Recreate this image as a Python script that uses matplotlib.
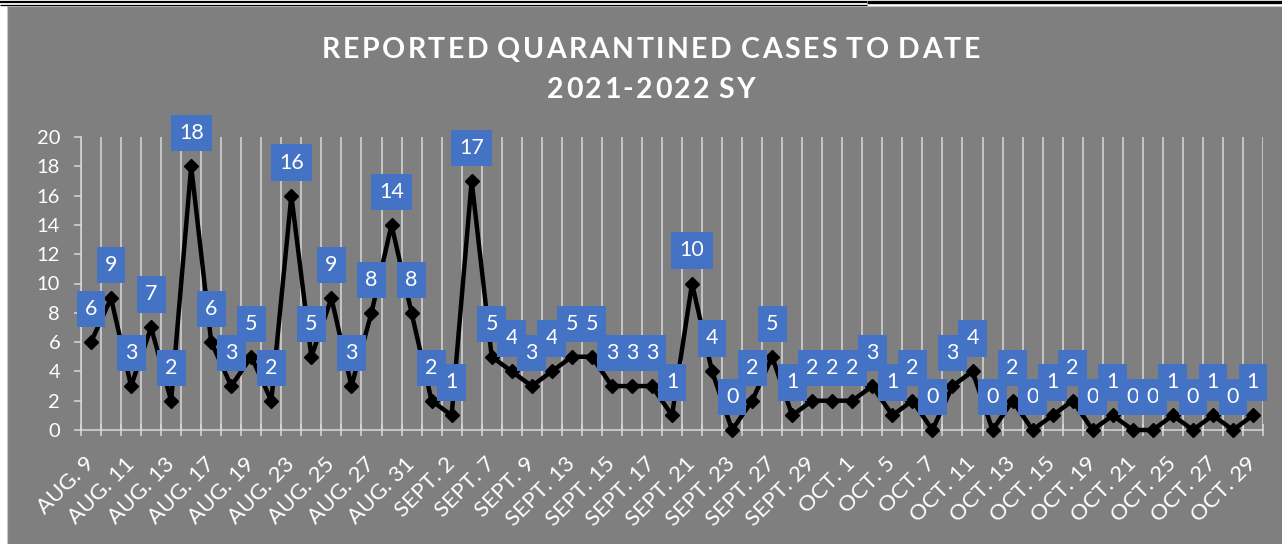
import matplotlib
matplotlib.use("Agg")
import matplotlib.pyplot as plt
from matplotlib.patches import Rectangle
from matplotlib.lines import Line2D
from matplotlib.font_manager import FontProperties
from matplotlib.textpath import TextToPath
import numpy as np

# ---------------- data ----------------
tick_labels = ["AUG. 9", "AUG. 11", "AUG. 13", "AUG. 17", "AUG. 19", "AUG. 23",
               "AUG. 25", "AUG. 27", "AUG. 31", "SEPT. 2", "SEPT. 7", "SEPT. 9",
               "SEPT. 13", "SEPT. 15", "SEPT. 17", "SEPT. 21", "SEPT. 23", "SEPT. 27",
               "SEPT. 29", "OCT. 1", "OCT. 5", "OCT. 7", "OCT. 11", "OCT. 13",
               "OCT. 15", "OCT. 19", "OCT. 21", "OCT. 25", "OCT. 27", "OCT. 29"]
cases = [6, 9, 3, 7, 2, 18, 6, 3, 5, 2,
         16, 5, 9, 3, 8, 14, 8, 2, 1, 17,
         5, 4, 3, 4, 5, 5, 3, 3, 3, 1,
         10, 4, 0, 2, 5, 1, 2, 2, 2, 3,
         1, 2, 0, 3, 4, 0, 2, 0, 1, 2,
         0, 1, 0, 0, 1, 0, 1, 0, 1]
title_lines = ["REPORTED QUARANTINED CASES TO DATE", "2021-2022 SY"]

# ---------------- style ----------------
W, H = 1282, 544
DPI = 100
BG = "#7F7F7F"
GRID = "#D9D9D9"
BLUE = "#4472C4"
FONT = "Lato"

plt.rcParams["font.family"] = [FONT, "DejaVu Sans"]

fig = plt.figure(figsize=(W / DPI, H / DPI), dpi=DPI)
fig.patch.set_facecolor("white")

def fx(px):
    return px / W

def fy(py):
    return 1 - py / H

# gray chart area
fig.add_artist(Rectangle((fx(7), 0), 1 - fx(7), fy(7), transform=fig.transFigure,
                         facecolor=BG, edgecolor="none", zorder=-10))
# border lines
fig.add_artist(Line2D([fx(6.5), fx(6.5)], [0, fy(6.5)], transform=fig.transFigure,
                      color="#C8C8C8", lw=0.8))
fig.add_artist(Line2D([fx(6.5), 1], [fy(6.2), fy(6.2)], transform=fig.transFigure,
                      color="#C8C8C8", lw=0.8))
# top black lines
fig.add_artist(Line2D([0, fx(867)], [fy(2), fy(2)], transform=fig.transFigure,
                      color="black", lw=1.6, solid_capstyle="butt"))
fig.add_artist(Line2D([0, fx(867)], [fy(5), fy(5)], transform=fig.transFigure,
                      color="black", lw=0.9, solid_capstyle="butt"))
fig.add_artist(Line2D([fx(867), 1], [fy(1.6), fy(1.6)], transform=fig.transFigure,
                      color="black", lw=2.4, solid_capstyle="butt"))

# ---------------- axes ----------------
left, right, top, bottom = 81, 1263, 137, 430
ax = fig.add_axes([fx(left), fy(bottom), fx(right - left), (bottom - top) / H])
ax.set_facecolor("none")

x = np.arange(len(cases))
ax.plot(x, cases, color="black", lw=3.2, marker="D", markersize=7.5,
        markerfacecolor="black", markeredgecolor="black", zorder=3, clip_on=False)

ax.set_xlim(-0.5, len(cases) - 0.5)
ax.set_ylim(0, 20)
ax.set_yticks(range(0, 21, 2))

ax.set_xticks(np.arange(0, len(cases), 2))
ax.set_xticklabels(tick_labels, rotation=45, ha="right", va="center",
                   rotation_mode="anchor", color="white", fontsize=16)
ax.set_xticks(np.arange(-0.5, len(cases), 1), minor=True)
ax.tick_params(axis="x", which="major", length=0, pad=22)
ax.tick_params(axis="x", which="minor", direction="inout", length=8.5,
               width=1.1, color=GRID)
ax.tick_params(axis="y", which="major", direction="out", length=5, width=1.1,
               color=GRID, labelcolor="white", labelsize=14.5, pad=10)
ax.grid(True, axis="x", which="minor", color=GRID, lw=1.1, zorder=1)
ax.grid(False, axis="x", which="major")
ax.set_axisbelow(True)

for s in ["top", "right"]:
    ax.spines[s].set_visible(False)
for s in ["left", "bottom"]:
    ax.spines[s].set_color(GRID)
    ax.spines[s].set_linewidth(1.1)

# data labels
for i, v in enumerate(cases):
    ax.annotate(str(v), (i, v), xytext=(0, 33 * 72 / DPI), textcoords="offset points",
                ha="center", va="center", fontsize=15.5, color="white", zorder=5,
                annotation_clip=False,
                bbox=dict(boxstyle="square,pad=0.38", fc=BLUE, ec="none"))

# ---------------- spaced title ----------------
ttp = TextToPath()
tprop = FontProperties(family=FONT, weight="bold", size=20.5)

def ink_width(s):
    w, h, d = ttp.get_text_width_height_descent(s, tprop, ismath=False)
    return w * DPI / 72.0

space_w = ink_width("l l") - ink_width("ll")

def char_widths(s):
    return [space_w * 0.6 if c == " " else ink_width(c) for c in s]

w1 = char_widths(title_lines[0])
gap = (658 - sum(w1)) / (len(w1) - 1)

def draw_spaced(s, cx, cy):
    ws = char_widths(s)
    total = sum(ws) + gap * (len(ws) - 1)
    xpos = cx - total / 2
    for c, w in zip(s, ws):
        if c != " ":
            fig.text(fx(xpos + w / 2), fy(cy), c, fontproperties=tprop,
                     color="white", ha="center", va="center_baseline")
        xpos += w + gap

draw_spaced(title_lines[0], 651, 47)
draw_spaced(title_lines[1], 651, 87)

fig.savefig("out.png", dpi=DPI, facecolor=fig.get_facecolor())
